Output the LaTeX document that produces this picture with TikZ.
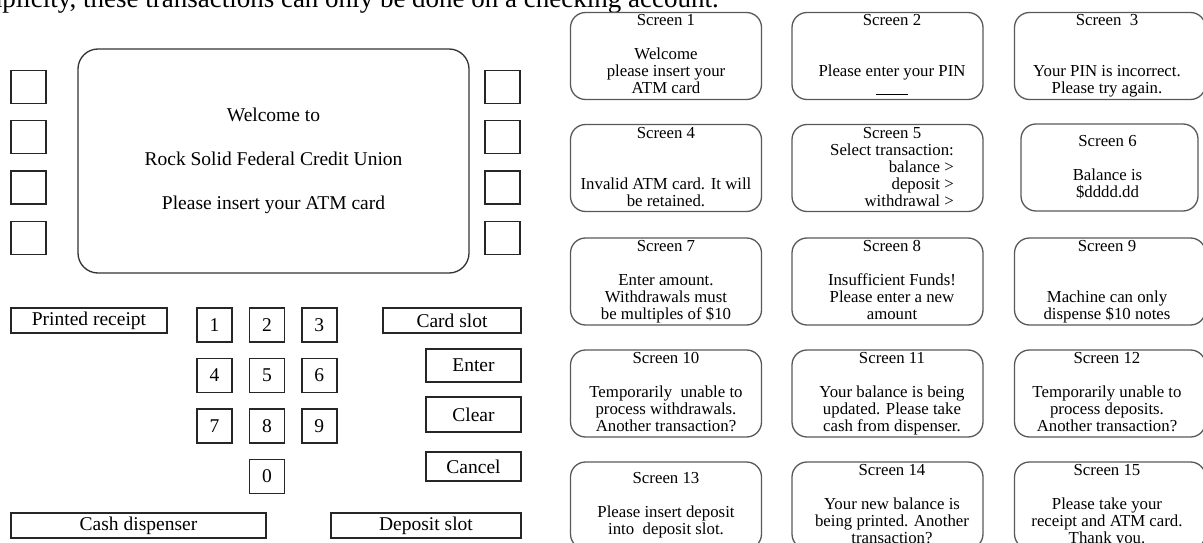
\documentclass[tikz,border=0pt]{standalone}
\usepackage{fontspec}
\setmainfont{Liberation Serif}
\usetikzlibrary{positioning}

\newcommand{\panelfont}{\fontsize{19.5}{23}\selectfont}
\newcommand{\scrfont}{\fontsize{16.8}{17}\selectfont}

\begin{document}
\begin{tikzpicture}[
    x=1pt, y=-1pt,
    lcd/.style={draw=black!80, line width=1.3pt, rounded corners=20pt, minimum width=391pt, minimum height=224pt, align=center, font=\fontsize{19.5}{44}\selectfont},
    sidekey/.style={draw=black!85, line width=1.2pt, minimum width=35pt, minimum height=33pt, inner sep=0pt},
    numkey/.style={draw=black!85, line width=1.4pt, minimum width=35pt, minimum height=34pt, inner sep=0pt, font=\panelfont},
    slot/.style={draw=black!85, line width=1.2pt, minimum height=25pt, inner sep=0pt, font=\panelfont},
    screen/.style={draw=black!65, line width=1.3pt, rounded corners=15pt, minimum width=191pt, minimum height=87pt},
    msg/.style={align=center, inner sep=0pt, font=\scrfont}
]
    \useasboundingbox (0,0) rectangle (1203,543);
    \clip (0,0) rectangle (1203,543);
    % Cut-off line of text above the picture
    \node[anchor=base east, inner sep=0pt, font=\fontsize{27}{32}\selectfont] (intro) at (719,7.5) {simplicity, these transactions can only be done on a checking account.};
    % ATM front panel: display and side keys
    \node[lcd] (scr) at (273.5,161) {Welcome to\\Rock Solid Federal Credit Union\\Please insert your ATM card};
    \node[sidekey] (lk1) at (28.5,87) {};
    \node[sidekey, below=16pt of lk1] (lk2) {};
    \node[sidekey, below=16pt of lk2] (lk3) {};
    \node[sidekey, below=16pt of lk3] (lk4) {};
    \node[sidekey] (rk1) at (502.5,87) {};
    \node[sidekey, below=16pt of rk1] (rk2) {};
    \node[sidekey, below=16pt of rk2] (rk3) {};
    \node[sidekey, below=16pt of rk3] (rk4) {};
    % Keypad
    \node[numkey] (key1) at (214.5,325) {1};
    \node[numkey, right=16pt of key1] (key2) {2};
    \node[numkey, right=16pt of key2] (key3) {3};
    \node[numkey, below=15pt of key1] (key4) {4};
    \node[numkey, right=16pt of key4] (key5) {5};
    \node[numkey, right=16pt of key5] (key6) {6};
    \node[numkey, below=15pt of key4] (key7) {7};
    \node[numkey, right=16pt of key7] (key8) {8};
    \node[numkey, right=16pt of key8] (key9) {9};
    \node[numkey, below=15pt of key8] (key0) {0};
    % Slots and function keys
    \node[slot, minimum width=156pt] (receipt) at (89,320.5) {Printed receipt};
    \node[slot, minimum width=138pt] (cardslot) at (452,320.5) {Card slot};
    \node[slot, minimum width=95pt, minimum height=33pt] (enter) at (473.5,365.5) {Enter};
    \node[slot, minimum width=95pt, minimum height=35pt] (clear) at (473.5,414.5) {Clear};
    \node[slot, minimum width=95pt, minimum height=29pt] (cancel) at (473.5,466.5) {Cancel};
    \node[slot, minimum width=255pt] (cash) at (138.5,525.5) {Cash dispenser};
    \node[slot, minimum width=190pt] (deposit) at (426,525.5) {Deposit slot};
    % Screen mock-ups, row by row
    \node[screen] (s1) at (666,56) {};
    \node[screen] (s2) at (887.5,56) {};
    \node[screen] (s3) at (1110,56) {};
    \node[screen] (s4) at (666,168) {};
    \node[screen] (s5) at (887.5,168) {};
    \node[screen, minimum width=177pt] (s6) at (1109.5,167.5) {};
    \node[screen] (s7) at (666,281.5) {};
    \node[screen] (s8) at (887.5,281.5) {};
    \node[screen] (s9) at (1110,281.5) {};
    \node[screen] (s10) at (666,393.5) {};
    \node[screen] (s11) at (887.5,393.5) {};
    \node[screen] (s12) at (1110,393.5) {};
    \node[screen] (s13) at (666,505.5) {};
    \node[screen] (s14) at (887.5,505.5) {};
    \node[screen] (s15) at (1110,505.5) {};
    % Screen texts
    \node[msg, below=2pt of s1.north] (t1) {Screen 1\\[17pt]Welcome\\please insert your\\ATM card};
    \node[msg, below=2pt of s2.north, xshift=4.5pt] (t2) {Screen 2\\[34pt]Please enter your PIN\\\rule[-2pt]{32pt}{0.8pt}};
    \node[msg, below=2pt of s3.north, xshift=-3pt] (t3) {Screen\ \ 3\\[34pt]Your PIN is incorrect.\\Please try again.};
    \node[msg, below=3pt of s4.north] (t4) {Screen 4\\[34pt]Invalid ATM card. It will\\be retained.};
    \node[inner sep=0pt, font=\scrfont, below=3pt of s5.north, xshift=4.5pt] (t5) {\begin{tabular}{@{}r@{}}\multicolumn{1}{@{}c@{}}{Screen 5}\\Select transaction:\\balance >\\deposit >\\withdrawal >\end{tabular}};
    \node[msg, below=12pt of s6.north, xshift=-2pt] (t6) {Screen 6\\[17pt]Balance is\\\$dddd.dd};
    \node[msg, below=3pt of s7.north] (t7) {Screen 7\\[17pt]Enter amount.\\Withdrawals must\\be multiples of \$10};
    \node[msg, below=3pt of s8.north, xshift=4.5pt] (t8) {Screen 8\\[17pt]Insufficient Funds!\\Please enter a new\\amount};
    \node[msg, below=3pt of s9.north, xshift=-3pt] (t9) {Screen 9\\[34pt]Machine can only\\dispense \$10 notes};
    \node[msg, below=3pt of s10.north] (t10) {Screen 10\\[17pt]Temporarily\ \ unable to\\process withdrawals.\\Another transaction?};
    \node[msg, below=3pt of s11.north, xshift=4.5pt] (t11) {Screen 11\\[17pt]Your balance is being\\updated. Please take\\cash from dispenser.};
    \node[msg, below=3pt of s12.north, xshift=-3pt] (t12) {Screen 12\\[17pt]Temporarily unable to\\process deposits.\\Another transaction?};
    \node[msg, below=11pt of s13.north] (t13) {Screen 13\\[17pt]Please insert deposit\\into\ \ deposit slot.};
    \node[msg, below=3pt of s14.north, xshift=4.5pt] (t14) {Screen 14\\[17pt]Your new balance is\\being printed. Another\\transaction?};
    \node[msg, below=3pt of s15.north, xshift=-3pt] (t15) {Screen 15\\[17pt]Please take your\\receipt and ATM card.\\Thank you.};
\end{tikzpicture}
\end{document}
